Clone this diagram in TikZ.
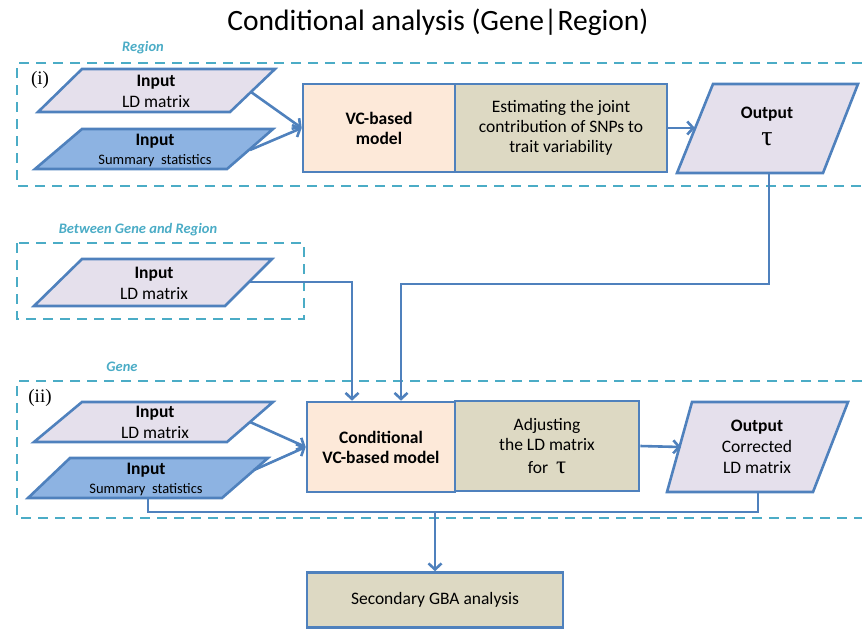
\documentclass[tikz,border=0pt]{standalone}
\usepackage{fontspec}
\setmainfont{Carlito}
\newfontfamily\greekfont{Liberation Serif}
\usetikzlibrary{arrows.meta}
\definecolor{edgeblue}{HTML}{4F81BD}
\definecolor{dashteal}{HTML}{4BACC6}
\definecolor{lilac}{HTML}{E5E0EC}
\definecolor{sumblue}{HTML}{8DB3E2}
\definecolor{peach}{HTML}{FDE9D9}
\definecolor{khaki}{HTML}{DDD9C3}
\tikzset{
	region/.style={dashteal, line width=2.8pt, dash pattern=on 10pt off 7pt},
	regionlabel/.style={dashteal, font=\fontsize{14.5}{16}\selectfont\bfseries\itshape},
	io/.style={draw=edgeblue, line width=2.6pt, line join=miter},
	txt/.style={align=center, font=\fontsize{17.5}{21}\selectfont, inner sep=0pt},
	model/.style={draw=edgeblue, line width=2.6pt, fill=peach, minimum height=88pt, align=center, font=\fontsize{17.5}{20}\selectfont\bfseries},
	task/.style={draw=edgeblue, line width=2.6pt, fill=khaki, minimum height=88pt, align=center, font=\fontsize{17.5}{20}\selectfont},
	flow/.style={edgeblue, line width=2.6pt},
	arr/.style={flow, -{Straight Barb[length=6pt,width=13pt]}}
}
\begin{document}
\begin{tikzpicture}[x=1pt, y=-1pt]
	\useasboundingbox (0,0) rectangle (862,630);
	% title
	\node[font=\fontsize{29.5}{32}\selectfont] (title) at (438,22) {Conditional analysis (Gene|Region)};
	
	% region frames
	\draw[region] (862,63) -- (17,63) -- (17,186) -- (862,186);
	\node[regionlabel] (lregion) at (143,48) {Region};
	\draw[region] (17,243) rectangle (304,319);
	\node[regionlabel] (lbetween) at (138,230) {Between Gene and Region};
	\draw[region] (862,381) -- (17,381) -- (17,518) -- (862,518);
	\node[regionlabel] (lgene) at (122,367) {Gene};
	\node[font=\greekfont\fontsize{19}{19}\selectfont] (stepi) at (40,80) {(i)};
	\node[font=\greekfont\fontsize{19}{19}\selectfont] (stepii) at (40,398) {(ii)};
	
	% (i) inputs
	\draw[io, fill=lilac] (82,69) -- (275,69) -- (230,112) -- (38,112) -- cycle;
	\node[txt] (ldA) at (156,91) {\textbf{Input}\\LD matrix};
	\coordinate (ldA-o) at (251,92);
	\draw[io, fill=sumblue] (82,129) -- (273,129) -- (227,169) -- (35,169) -- cycle;
	\node[txt] (ssA) at (155,150) {\textbf{Input}\\[-2pt]{\fontsize{14.5}{16}\selectfont Summary\ \ statistics}};
	\coordinate (ssA-o) at (250,150);
	
	% (i) model
	\node[model, minimum width=152pt] (vc) at (379,128) {VC-based\\model};
	\node[task, minimum width=212pt] (est) at (561,128) {Estimating the joint\\contribution of SNPs to\\trait variability};
	
	% (i) output
	\draw[io, fill=lilac] (713,84) -- (858,84) -- (823,173) -- (677,173) -- cycle;
	\node[txt] (outA) at (767,126) {\textbf{Output}\\[6pt]{\greekfont\fontsize{28}{27}\selectfont τ}};
	\coordinate (outA-i) at (695,128);
	\coordinate (outA-b) at (769,173);
	
	% between input
	\draw[io, fill=lilac] (82,259) -- (272,259) -- (225,306) -- (34,306) -- cycle;
	\node[txt] (ldB) at (154,283) {\textbf{Input}\\LD matrix};
	\coordinate (ldB-o) at (250,282);
	
	% (ii) inputs
	\draw[io, fill=lilac] (82,402) -- (273,402) -- (227,442) -- (34,442) -- cycle;
	\node[txt] (ldC) at (155,422) {\textbf{Input}\\LD matrix};
	\coordinate (ldC-o) at (250,422);
	\draw[io, fill=sumblue] (70,458) -- (268,458) -- (222,498) -- (28,498) -- cycle;
	\node[txt] (ssC) at (146,479) {\textbf{Input}\\[-2pt]{\fontsize{14.5}{16}\selectfont Summary\ \ statistics}};
	\coordinate (ssC-o) at (254,470);
	\coordinate (ssC-b) at (148,498);
	
	% (ii) model
	\node[model, minimum width=148pt, minimum height=90pt] (cond) at (381,447) {Conditional\\VC-based model};
	\node[task, minimum width=184pt, minimum height=90pt] (adj) at (547,446) {Adjusting\\the LD matrix\\[3pt]for\ \ {\greekfont\fontsize{25}{20}\selectfont τ}};
	
	% (ii) output
	\draw[io, fill=lilac] (692,402) -- (848,402) -- (813,492) -- (667,492) -- cycle;
	\node[txt] (outC) at (757,447) {\textbf{Output}\\Corrected\\LD matrix};
	\coordinate (outC-i) at (681,447);
	\coordinate (outC-b) at (758,492);
	
	% final step
	\node[task, minimum width=256pt, minimum height=55pt] (sec) at (435,600) {Secondary GBA analysis};
	
	% connectors
	\coordinate (tauturn) at (401,284);
	\coordinate (ldturn) at (352,282);
	\coordinate (merge) at (435,512);
	\draw[arr] (ldA-o) -- (vc.west);
	\draw[arr] (ssA-o) -- (vc.west);
	\draw[arr] (est.east) -- (outA-i);
	\draw[arr] (outA-b) |- (tauturn) -- (tauturn |- cond.north);
	\draw[arr] (ldB-o) -- (ldturn) -- (ldturn |- cond.north);
	\draw[arr] (ldC-o) -- (cond.west);
	\draw[arr] (ssC-o) -- (cond.west);
	\draw[arr] (adj.east) -- (outC-i);
	\draw[flow] (ssC-b) |- (merge) -| (outC-b);
	\draw[arr] (merge) -- (sec.north);
\end{tikzpicture}
\end{document}
